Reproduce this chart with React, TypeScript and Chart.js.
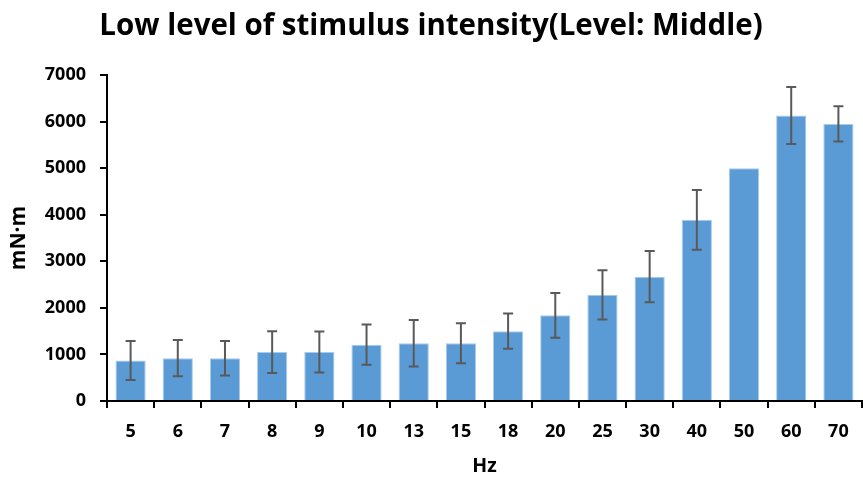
import React, { useEffect, useRef } from "react";
import { Chart, registerables } from "chart.js";

Chart.register(...registerables);

const categories = ["5", "6", "7", "8", "9", "10", "13", "15", "18", "20", "25", "30", "40", "50", "60", "70"];
const means = [870, 920, 920, 1050, 1050, 1210, 1240, 1240, 1500, 1840, 2280, 2670, 3890, 5000, 6130, 5950];
const errors = [420, 390, 370, 450, 440, 430, 500, 430, 380, 480, 530, 550, 640, 0, 610, 380];
const yTicks = [0, 1000, 2000, 3000, 4000, 5000, 6000, 7000];

const FONT = "'Open Sans', 'Liberation Sans', Arial, sans-serif";

const errorBarPlugin = {
  id: "errorBars",
  afterDatasetsDraw(chart: any) {
    const ctx = chart.ctx;
    const meta = chart.getDatasetMeta(0);
    const y = chart.scales.y;
    ctx.save();
    ctx.strokeStyle = "#595959";
    ctx.lineWidth = 2;
    meta.data.forEach((bar: any, i: number) => {
      const e = errors[i];
      if (!e) return;
      const x = bar.x;
      const top = y.getPixelForValue(means[i] + e);
      const bot = y.getPixelForValue(means[i] - e);
      ctx.beginPath();
      ctx.moveTo(x, top);
      ctx.lineTo(x, bot);
      ctx.moveTo(x - 5, top);
      ctx.lineTo(x + 5, top);
      ctx.moveTo(x - 5, bot);
      ctx.lineTo(x + 5, bot);
      ctx.stroke();
    });
    ctx.restore();
  },
};

export default function App() {
  const ref = useRef<HTMLCanvasElement | null>(null);
  useEffect(() => {
    if (!ref.current) return;
    const chart = new Chart(ref.current, {
      type: "bar",
      data: {
        labels: categories,
        datasets: [
          {
            data: means,
            backgroundColor: "#5B9BD5",
            borderColor: "#A9CBEB",
            borderWidth: 1,
            categoryPercentage: 1,
            barPercentage: 0.64,
          },
        ],
      },
      plugins: [errorBarPlugin],
      options: {
        animation: false,
        responsive: true,
        maintainAspectRatio: false,
        layout: { padding: { left: 0, right: 1, top: 0, bottom: 0 } },
        plugins: {
          legend: { display: false },
          tooltip: { enabled: false },
          title: {
            display: true,
            text: "Low level of stimulus intensity(Level: Middle)",
            color: "#000",
            font: { family: FONT, size: 29.5, weight: "bold", lineHeight: 1.2 },
            padding: { top: 9, bottom: 30.6 },
          },
        },
        scales: {
          x: {
            afterFit(scale: any) {
              scale.height = 80;
            },
            grid: {
              display: true,
              drawOnChartArea: false,
              drawTicks: true,
              tickLength: 7,
              color: "#000",
              lineWidth: 2,
              offset: true,
            },
            border: { display: true, color: "#000", width: 2 },
            ticks: {
              color: "#000",
              padding: 13,
              font: { family: FONT, size: 18, weight: "bold" },
              maxRotation: 0,
              autoSkip: false,
            },
            title: {
              display: true,
              text: "Hz",
              color: "#000",
              font: { family: FONT, size: 19.5, weight: "bold", lineHeight: 1.2 },
              padding: { top: 0, bottom: 3 },
            },
          },
          y: {
            min: 0,
            max: 7000,
            afterFit(scale: any) {
              scale.width = 107;
            },
            afterBuildTicks(scale: any) {
              scale.ticks = yTicks.map((v) => ({ value: v }));
            },
            grid: {
              display: true,
              drawOnChartArea: false,
              drawTicks: true,
              tickLength: 7,
              color: "#000",
              lineWidth: 2,
            },
            border: { display: true, color: "#000", width: 2 },
            ticks: {
              color: "#000",
              padding: 14,
              font: { family: FONT, size: 18, weight: "bold" },
              callback: (v: any) => String(v),
            },
            title: {
              display: true,
              text: "mN·m",
              color: "#000",
              font: { family: FONT, size: 21, weight: "bold", lineHeight: 1.2 },
              padding: { top: 6, bottom: 0 },
            },
          },
        },
      },
    });
    return () => chart.destroy();
  }, []);
  return (
    <div style={{ position: "fixed", left: 0, top: 0, width: 863, height: 481, background: "#fff" }}>
      <canvas ref={ref} />
    </div>
  );
}
